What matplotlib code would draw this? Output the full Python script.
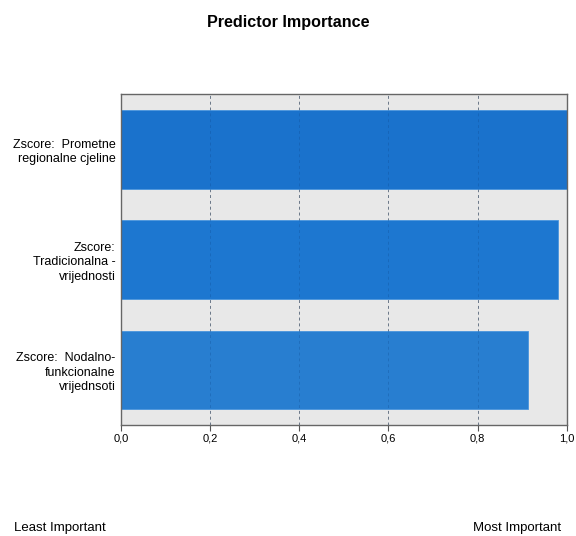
import matplotlib
matplotlib.use('Agg')
import matplotlib.pyplot as plt
import numpy as np

# Data
predictors = ['Zscore:  Prometne\nregionalne cjeline',
              'Zscore:\nTradicionalna -\nvrijednosti',
              'Zscore:  Nodalno-\nfunkcionalne\nvrijednsoti']
importance = [1.0, 0.98, 0.913]
bar_colors = ['#1a72cc', '#1d77d0', '#287ed0']
xticks = [0.0, 0.2, 0.4, 0.6, 0.8, 1.0]
xtick_labels = ['0,0', '0,2', '0,4', '0,6', '0,8', '1,0']

plt.rcParams['font.family'] = ['Liberation Sans', 'DejaVu Sans']

fig = plt.figure(figsize=(5.76, 5.36), dpi=100)
ax = fig.add_axes([0.210, 0.207, 0.774, 0.617])

ax.set_facecolor('#e8e8e8')
y = np.arange(len(predictors))
ax.barh(y, importance, height=0.713, color=bar_colors, edgecolor='#4a95dd', linewidth=0.6, zorder=2)

ax.set_xlim(0, 1.0)
ax.set_ylim(2.5, -0.5)
ax.set_xticks(xticks)
ax.set_xticklabels(xtick_labels, fontsize=8)
ax.set_yticks(y)
ax.set_yticklabels(predictors, fontsize=9, linespacing=1.25)
ax.tick_params(axis='y', length=0, pad=4)
ax.tick_params(axis='x', length=4, color='#555555', pad=2)

# dashed vertical grid (behind and faintly over the bars)
for xv in xticks[1:-1]:
    ax.axvline(xv, color='#8c8c8c', linestyle=(0, (3, 3)), linewidth=0.7, zorder=1)
    ax.axvline(xv, color='#0a3f80', linestyle=(0, (3, 3)), linewidth=0.7, alpha=0.25, zorder=3)

for s in ax.spines.values():
    s.set_color('#666666')
    s.set_linewidth(1.0)

fig.text(0.5, 0.958, 'Predictor Importance', ha='center', va='center', fontsize=11.6, fontweight='bold')
fig.text(0.024, 0.015, 'Least Important', ha='left', va='center', fontsize=9.5)
fig.text(0.975, 0.015, 'Most Important', ha='right', va='center', fontsize=9.5)

plt.savefig('out.png', dpi=100)
